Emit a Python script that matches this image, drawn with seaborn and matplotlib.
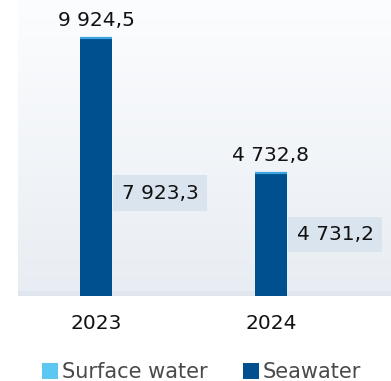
import numpy as np
import pandas as pd
import matplotlib
matplotlib.use("Agg")
import matplotlib.pyplot as plt
from matplotlib.colors import LinearSegmentedColormap
from matplotlib.patches import Rectangle
import seaborn as sns

# Water withdrawal by source, thousand m3
years = ["2023", "2024"]
totals = [9924.5, 4732.8]
seawater = [7923.3, 4731.2]
series_names = ["Surface water", "Seawater"]

total_labels = ["9 924,5", "4 732,8"]
seawater_labels = ["7 923,3", "4 731,2"]

DARK = "#00508f"
LIGHT = "#5bc8f2"
CAP = "#3aa3e0"
BOX = "#d9e4ee"

sns.set_theme(style="white")
plt.rcParams["font.family"] = ["DejaVu Sans"]

W, H = 391, 381
fig = plt.figure(figsize=(W / 100, H / 100), dpi=100)
ax = fig.add_axes([18 / W, (H - 296) / H, (W - 18) / W, 296 / H])

df = pd.DataFrame({"year": years, "total": totals, "seawater": seawater})

# soft vertical gradient behind the bars
grad = np.linspace(0, 1, 256).reshape(-1, 1)
cmap = LinearSegmentedColormap.from_list("bg", ["#e8edf3", "#fcfdfe"])
ax.imshow(grad, extent=[0, 1, 0, 1], transform=ax.transAxes, cmap=cmap,
          aspect="auto", origin="lower", zorder=0)
ax.add_patch(Rectangle((0, 0), 1, 5 / 296, transform=ax.transAxes,
                       fc="#dfe6ee", ec="none", zorder=0.5))

bar_w = 32 / 175
sns.barplot(data=df, x="year", y="total", color=DARK, width=bar_w,
            saturation=1, linewidth=0, edgecolor="none", ax=ax, zorder=2)

ax.set_xlim(-78 / 175, 1 + 120 / 175)
ax.set_ylim(0, max(totals) * 296 / 258)

pad = 0.42
fs = 14.5
for i, (t, s) in enumerate(zip(totals, seawater)):
    # light rim on top of each bar
    ax.plot([i - bar_w / 2, i + bar_w / 2], [t, t], color=CAP, lw=1.6,
            solid_capstyle="butt", zorder=3)
    ax.annotate(total_labels[i], xy=(i, t), xytext=(0, 6),
                textcoords="offset points", ha="center", va="bottom",
                fontsize=fs, color="#111111", zorder=4)
    ax.annotate(seawater_labels[i], xy=(i + bar_w / 2, s / 2),
                xytext=(pad * fs + 1, 0),
                textcoords="offset points", ha="left", va="center",
                fontsize=fs, color="#111111", zorder=4,
                bbox=dict(boxstyle=f"square,pad={pad}", fc=BOX, ec="none"))

ax.set_xticks(range(len(years)), years)
ax.tick_params(axis="x", length=0, pad=13, labelsize=fs, labelcolor="#111111")
ax.set_yticks([])
ax.set_xlabel("")
ax.set_ylabel("")
for sp in ax.spines.values():
    sp.set_visible(False)

# legend
handles = [Rectangle((0, 0), 1, 1, fc=LIGHT, ec="none"),
           Rectangle((0, 0), 1, 1, fc=DARK, ec="none")]
leg = fig.legend(handles, series_names, loc="lower left",
                 bbox_to_anchor=(23 / W, -20 / H), ncol=2, frameon=False,
                 fontsize=15, handlelength=0.8, handleheight=0.8,
                 handletextpad=0.15, columnspacing=1.7, labelcolor="#4a4a4a")

fig.savefig("out.png", dpi=100, facecolor="white")
